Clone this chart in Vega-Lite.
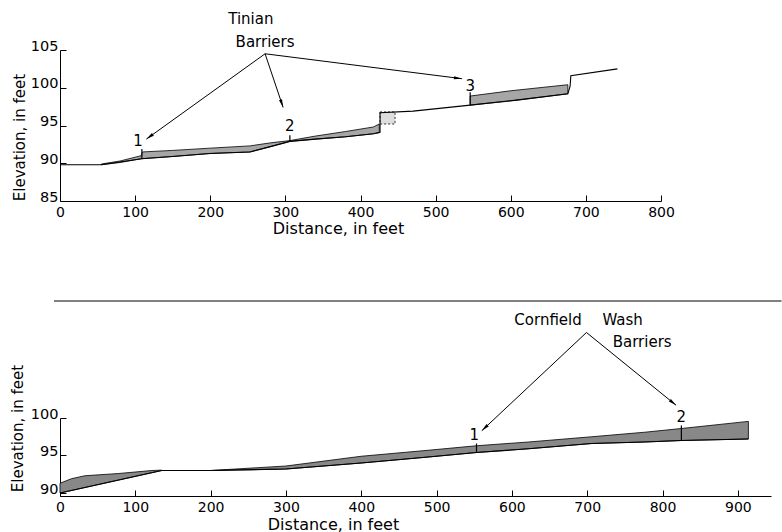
{
  "$schema": "https://vega.github.io/schema/vega-lite/v6.json",
  "padding": {"left": 9, "top": 12, "right": 0, "bottom": 0},
  "bounds": "flush",
  "spacing": 217,
  "background": "white",
  "config": {
    "view": {"stroke": null},
    "font": "DejaVu Sans",
    "axis": {
      "grid": false,
      "domainColor": "#000",
      "tickColor": "#000",
      "labelColor": "#000",
      "titleColor": "#000",
      "labelFont": "DejaVu Sans",
      "titleFont": "DejaVu Sans",
      "titleFontWeight": "normal",
      "tickSize": -6,
      "domainWidth": 1,
      "tickWidth": 1,
      "labelFlush": false,
      "labelOverlap": false
    },
    "text": {"font": "DejaVu Sans", "color": "#000"}
  },
  "datasets": {
    "topBed": [
      {"i": 1, "d": 0, "e": 89.8}, {"i": 2, "d": 55, "e": 89.8}, {"i": 3, "d": 109, "e": 90.6},
      {"i": 4, "d": 150, "e": 90.9}, {"i": 5, "d": 200, "e": 91.3}, {"i": 6, "d": 253, "e": 91.5},
      {"i": 7, "d": 280, "e": 92.2}, {"i": 8, "d": 306, "e": 92.9}, {"i": 9, "d": 340, "e": 93.2},
      {"i": 10, "d": 380, "e": 93.5}, {"i": 11, "d": 417, "e": 93.9}, {"i": 12, "d": 426, "e": 94.1},
      {"i": 13, "d": 426, "e": 96.7}, {"i": 14, "d": 470, "e": 96.9}, {"i": 15, "d": 546, "e": 97.7},
      {"i": 16, "d": 610, "e": 98.4}, {"i": 17, "d": 676, "e": 99.2}, {"i": 18, "d": 679, "e": 100.2},
      {"i": 19, "d": 680, "e": 101.6}, {"i": 20, "d": 742, "e": 102.5}
    ],
    "topHatch": [
      {"seg": 1, "d": 55, "e": 89.9, "e2": 89.8}, {"seg": 1, "d": 80, "e": 90.3, "e2": 90.1},
      {"seg": 1, "d": 108, "e": 91.0, "e2": 90.6}, {"seg": 1, "d": 110, "e": 91.5, "e2": 90.62},
      {"seg": 1, "d": 150, "e": 91.7, "e2": 90.9}, {"seg": 1, "d": 200, "e": 92.0, "e2": 91.3},
      {"seg": 1, "d": 253, "e": 92.3, "e2": 91.5}, {"seg": 1, "d": 280, "e": 92.7, "e2": 92.2},
      {"seg": 1, "d": 306, "e": 93.0, "e2": 92.9},
      {"seg": 2, "d": 306, "e": 93.0, "e2": 92.9}, {"seg": 2, "d": 340, "e": 93.6, "e2": 93.2},
      {"seg": 2, "d": 380, "e": 94.2, "e2": 93.5}, {"seg": 2, "d": 417, "e": 94.8, "e2": 93.9},
      {"seg": 2, "d": 425, "e": 95.2, "e2": 94.05},
      {"seg": 3, "d": 546, "e": 98.9, "e2": 97.7}, {"seg": 3, "d": 600, "e": 99.6, "e2": 98.25},
      {"seg": 3, "d": 676, "e": 100.4, "e2": 99.2}
    ],
    "topBox": [{"d": 426, "d2": 446, "e": 95.2, "e2": 96.8}],
    "topBarriers": [
      {"d": 109, "e": 90.6, "e2": 91.9}, {"d": 306, "e": 92.9, "e2": 93.7}, {"d": 546, "e": 97.7, "e2": 99.4}
    ],
    "topNums": [
      {"label": "1", "d": 104, "e": 92.9}, {"label": "2", "d": 306, "e": 94.9}, {"label": "3", "d": 546, "e": 100.25}
    ],
    "topWords": [
      {"label": "Tinian", "d": 254, "e": 109.1}, {"label": "Barriers", "d": 273, "e": 106.1}
    ],
    "topArrows": [
      {"id": 1, "d": 115, "e": 93.2, "d2": 273, "e2": 104.5},
      {"id": 2, "d": 297, "e": 97.4, "d2": 273, "e2": 104.5},
      {"id": 3, "d": 535, "e": 101.2, "d2": 273, "e2": 104.5}
    ],
    "botBed": [
      {"i": 1, "d": 0, "e": 90.0}, {"i": 2, "d": 135, "e": 93.0}, {"i": 3, "d": 200, "e": 93.0},
      {"i": 4, "d": 300, "e": 93.2}, {"i": 5, "d": 400, "e": 94.0}, {"i": 6, "d": 489, "e": 94.8},
      {"i": 7, "d": 553, "e": 95.4}, {"i": 8, "d": 622, "e": 95.9}, {"i": 9, "d": 706, "e": 96.6},
      {"i": 10, "d": 776, "e": 96.8}, {"i": 11, "d": 825, "e": 97.0}, {"i": 12, "d": 914, "e": 97.2}
    ],
    "botHatch": [
      {"seg": 1, "d": 0, "e": 91.3, "e2": 90.0}, {"seg": 1, "d": 15, "e": 91.9, "e2": 90.33},
      {"seg": 1, "d": 33, "e": 92.3, "e2": 90.73}, {"seg": 1, "d": 78, "e": 92.6, "e2": 91.73},
      {"seg": 1, "d": 122, "e": 93.0, "e2": 92.71}, {"seg": 1, "d": 135, "e": 93.05, "e2": 93.0},
      {"seg": 2, "d": 200, "e": 93.0, "e2": 93.0}, {"seg": 2, "d": 300, "e": 93.6, "e2": 93.2},
      {"seg": 2, "d": 400, "e": 94.9, "e2": 94.0}, {"seg": 2, "d": 489, "e": 95.7, "e2": 94.8},
      {"seg": 2, "d": 553, "e": 96.3, "e2": 95.4}, {"seg": 2, "d": 622, "e": 96.8, "e2": 95.9},
      {"seg": 2, "d": 706, "e": 97.5, "e2": 96.6}, {"seg": 2, "d": 776, "e": 98.1, "e2": 96.8},
      {"seg": 2, "d": 825, "e": 98.6, "e2": 97.0}, {"seg": 2, "d": 914, "e": 99.55, "e2": 97.2}
    ],
    "botBarriers": [
      {"d": 553, "e": 95.4, "e2": 96.6}, {"d": 825, "e": 97.0, "e2": 99.0}
    ],
    "botNums": [
      {"label": "1", "d": 550, "e": 97.7}, {"label": "2", "d": 825, "e": 100.1}
    ],
    "botWords": [
      {"label": "Cornfield", "d": 648, "e": 113.1}, {"label": "Wash", "d": 747, "e": 113.1},
      {"label": "Barriers", "d": 773, "e": 110.2}
    ],
    "botArrows": [
      {"id": 1, "d": 560, "e": 98.3, "d2": 699, "e2": 111.4},
      {"id": 2, "d": 818, "e": 101.7, "d2": 699, "e2": 111.4}
    ],
    "botSep": [{"d": -8, "e": 115.6, "d2": 958, "e2": 115.6}]
  },
  "vconcat": [
    {
      "width": 601,
      "height": 151,
      "encoding": {
        "x": {
          "field": "d", "type": "quantitative",
          "scale": {"domain": [0, 800], "nice": false, "zero": false},
          "axis": {
            "values": [0, 100, 200, 300, 400, 500, 600, 700, 800],
            "title": "Distance, in feet",
            "labelFontSize": 14, "labelPadding": 10,
            "titleFontSize": 16, "titleX": 278, "titleY": 32,
            "titleAlign": "center", "titleBaseline": "alphabetic"
          }
        },
        "y": {
          "field": "e", "type": "quantitative",
          "scale": {"domain": [85, 105], "nice": false, "zero": false},
          "axis": {
            "values": [85, 90, 95, 100, 105],
            "title": "Elevation, in feet",
            "labelFontSize": 14.5, "labelPadding": 8, "labelBaseline": "alphabetic",
            "titleFontSize": 15, "titleX": -41, "titleY": 87,
            "titleAngle": -90, "titleAlign": "center", "titleBaseline": "middle"
          }
        }
      },
      "layer": [
        {
          "data": {"name": "topHatch"},
          "mark": {"type": "area", "fill": "#a6a6a6", "stroke": "#000", "strokeWidth": 0.8, "clip": false},
          "encoding": {"y2": {"field": "e2"}, "detail": {"field": "seg"}}
        },
        {
          "data": {"name": "topBox"},
          "mark": {"type": "rect", "fill": "#ddd", "stroke": "#000", "strokeDash": [2, 2], "strokeWidth": 0.8},
          "encoding": {"x2": {"field": "d2"}, "y2": {"field": "e2"}}
        },
        {
          "data": {"name": "topBed"},
          "mark": {"type": "line", "color": "#000", "strokeWidth": 1.1, "clip": false},
          "encoding": {"order": {"field": "i"}}
        },
        {
          "data": {"name": "topBarriers"},
          "mark": {"type": "rule", "color": "#000", "strokeWidth": 1.2},
          "encoding": {"y2": {"field": "e2"}}
        },
        {
          "data": {"name": "topArrows"},
          "mark": {"type": "rule", "color": "#000", "strokeWidth": 1, "clip": false},
          "encoding": {"x2": {"field": "d2"}, "y2": {"field": "e2"}}
        },
        {
          "data": {"name": "topArrows"},
          "transform": [{"filter": "datum.id == 1"}],
          "mark": {"type": "point", "shape": "M0,0L-0.4,2L0.4,2Z", "filled": true, "color": "#000", "opacity": 1, "size": 64, "angle": 234}
        },
        {
          "data": {"name": "topArrows"},
          "transform": [{"filter": "datum.id == 2"}],
          "mark": {"type": "point", "shape": "M0,0L-0.4,2L0.4,2Z", "filled": true, "color": "#000", "opacity": 1, "size": 64, "angle": 161}
        },
        {
          "data": {"name": "topArrows"},
          "transform": [{"filter": "datum.id == 3"}],
          "mark": {"type": "point", "shape": "M0,0L-0.4,2L0.4,2Z", "filled": true, "color": "#000", "opacity": 1, "size": 64, "angle": 97}
        },
        {
          "data": {"name": "topNums"},
          "mark": {"type": "text", "fontSize": 15, "clip": false},
          "encoding": {"text": {"field": "label"}}
        },
        {
          "data": {"name": "topWords"},
          "mark": {"type": "text", "fontSize": 15, "clip": false},
          "encoding": {"text": {"field": "label"}}
        }
      ]
    },
    {
      "width": 711,
      "height": 78,
      "encoding": {
        "x": {
          "field": "d", "type": "quantitative",
          "scale": {"domain": [0, 944], "nice": false, "zero": false},
          "axis": {
            "values": [0, 100, 200, 300, 400, 500, 600, 700, 800, 900],
            "title": "Distance, in feet",
            "labelFontSize": 14, "labelPadding": 10,
            "titleFontSize": 16, "titleX": 273, "titleY": 33,
            "titleAlign": "center", "titleBaseline": "alphabetic"
          }
        },
        "y": {
          "field": "e", "type": "quantitative",
          "scale": {"domain": [89.6, 100], "nice": false, "zero": false},
          "axis": {
            "values": [90, 95, 100],
            "title": "Elevation, in feet",
            "labelFontSize": 14.5, "labelPadding": 8, "labelBaseline": "alphabetic",
            "titleFontSize": 15, "titleX": -43, "titleY": 10,
            "titleAngle": -90, "titleAlign": "center", "titleBaseline": "middle"
          }
        }
      },
      "layer": [
        {
          "data": {"name": "botHatch"},
          "mark": {"type": "area", "fill": "#888", "stroke": "#000", "strokeWidth": 0.8, "clip": false},
          "encoding": {"y2": {"field": "e2"}, "detail": {"field": "seg"}}
        },
        {
          "data": {"name": "botBed"},
          "mark": {"type": "line", "color": "#000", "strokeWidth": 1.1, "clip": false},
          "encoding": {"order": {"field": "i"}}
        },
        {
          "data": {"name": "botBarriers"},
          "mark": {"type": "rule", "color": "#000", "strokeWidth": 1.2},
          "encoding": {"y2": {"field": "e2"}}
        },
        {
          "data": {"name": "botSep"},
          "mark": {"type": "rule", "color": "#000", "strokeWidth": 1, "clip": false},
          "encoding": {"x2": {"field": "d2"}, "y2": {"field": "e2"}}
        },
        {
          "data": {"name": "botArrows"},
          "mark": {"type": "rule", "color": "#000", "strokeWidth": 1, "clip": false},
          "encoding": {"x2": {"field": "d2"}, "y2": {"field": "e2"}}
        },
        {
          "data": {"name": "botArrows"},
          "transform": [{"filter": "datum.id == 1"}],
          "mark": {"type": "point", "shape": "M0,0L-0.4,2L0.4,2Z", "filled": true, "color": "#000", "opacity": 1, "size": 64, "angle": 227}
        },
        {
          "data": {"name": "botArrows"},
          "transform": [{"filter": "datum.id == 2"}],
          "mark": {"type": "point", "shape": "M0,0L-0.4,2L0.4,2Z", "filled": true, "color": "#000", "opacity": 1, "size": 64, "angle": 129}
        },
        {
          "data": {"name": "botNums"},
          "mark": {"type": "text", "fontSize": 15, "clip": false},
          "encoding": {"text": {"field": "label"}}
        },
        {
          "data": {"name": "botWords"},
          "mark": {"type": "text", "fontSize": 15, "clip": false},
          "encoding": {"text": {"field": "label"}}
        }
      ]
    }
  ]
}
